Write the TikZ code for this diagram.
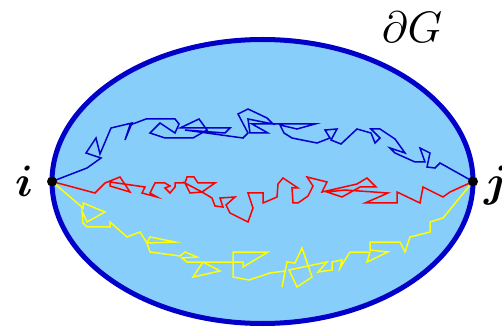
\documentclass[tikz,border=0pt]{standalone}
\usepackage{bm}
\usepackage{graphicx}
\usetikzlibrary{shapes.geometric}
\definecolor{regionfill}{RGB}{135,206,250}
\definecolor{borderblue}{RGB}{0,0,200}
\definecolor{walkblue}{RGB}{0,0,205}
\definecolor{walkyellow}{RGB}{255,255,0}
\newcommand{\biglbl}[1]{\scalebox{4.4}{$#1$}}
\begin{document}
\begin{tikzpicture}[x=1pt,y=-1pt,
  region/.style={fill=regionfill,draw=borderblue,line width=5pt},
  walk/.style={line width=1.5pt,line join=miter},
  bluewalk/.style={walk,draw=walkblue},
  redwalk/.style={walk,draw=red},
  yellowwalk/.style={walk,draw=walkyellow},
  endpoint/.style={circle,fill=black,inner sep=0pt,minimum size=10pt},
  biglabel/.style={inner sep=0pt}]
\useasboundingbox (0,0) rectangle (502,328);
\node[region,ellipse,minimum width=421pt,minimum height=284pt,inner sep=0pt] (G) at (262.5,181.5) {};
\node[inner sep=0pt] (pi) at (52,181.5) {};
\node[inner sep=0pt] (pj) at (473,181.5) {};
% blue walk
\draw[bluewalk] (pi.center) -- (87,168) -- (101,158) -- (86,153) -- (96,138) -- (100,154)
  -- (111,128) -- (132,123) -- (125,140) -- (130,125) -- (146,119) -- (175,119) -- (179,124)
  -- (175,133) -- (160,123) -- (150,133) -- (165,138) -- (193,138) -- (207,130) -- (199,119)
  -- (180,128) -- (230,128) -- (225,133) -- (185,130) -- (243,138) -- (248,133) -- (238,114)
  -- (248,109) -- (267,118) -- (273,124) -- (248,119) -- (250,133) -- (268,133) -- (252,124)
  -- (273,124) -- (315,124) -- (297,129) -- (280,125) -- (284,133) -- (292,138) -- (317,143)
  -- (330,138) -- (325,130) -- (337,129) -- (331,140) -- (341,144) -- (357,129) -- (371,133)
  -- (375,143) -- (380,138) -- (371,129) -- (380,129) -- (395,139) -- (405,153) -- (390,148)
  -- (395,153) -- (415,162) -- (425,162) -- (420,148) -- (430,153) -- (427,167) -- (435,168)
  -- (440,163) -- (pj.center);
% red walk
\draw[redwalk] (pi.center) -- (95,193) -- (105,183) -- (120,177) -- (130,192) -- (110,186)
  -- (110,182) -- (145,187) -- (142,193) -- (157,197) -- (150,193) -- (155,183) -- (165,183)
  -- (170,186) -- (165,188) -- (170,193) -- (175,187) -- (175,183) -- (185,183) -- (187,177)
  -- (194,177) -- (198,183) -- (215,183) -- (202,192) -- (190,193) -- (185,183) -- (202,192)
  -- (212,198) -- (215,206) -- (223,207) -- (220,198) -- (235,197) -- (226,205) -- (230,213)
  -- (248,222) -- (253,208) -- (248,193) -- (263,193) -- (263,203) -- (277,197) -- (278,184)
  -- (283,178) -- (298,188) -- (292,188) -- (293,203) -- (298,203) -- (308,196) -- (313,186)
  -- (307,177) -- (327,182) -- (322,192) -- (357,184) -- (367,178) -- (376,187) -- (360,187)
  -- (342,197) -- (327,192) -- (345,190) -- (388,193) -- (365,203) -- (397,203) -- (397,192)
  -- (420,203) -- (423,187) -- (443,197) -- (450,192) -- (pj.center);
% yellow walk
\draw[yellowwalk] (pi.center) -- (83,208) -- (83,203) -- (105,212) -- (87,222) -- (82,211)
  -- (83,223) -- (87,227) -- (110,227) -- (110,222) -- (127,237) -- (140,232) -- (147,243)
  -- (175,242) -- (150,237) -- (147,243) -- (150,252) -- (180,256) -- (185,252) -- (197,257)
  -- (182,258) -- (187,262) -- (203,262) -- (193,277) -- (220,271) -- (203,262) -- (233,262)
  -- (243,262) -- (243,267) -- (268,252) -- (233,252) -- (233,277) -- (249,280) -- (270,273)
  -- (285,271) -- (282,287) -- (287,262) -- (295,263) -- (302,248) -- (312,277) -- (297,287)
  -- (289,270) -- (327,262) -- (318,272) -- (332,270) -- (332,262) -- (342,260) -- (340,268)
  -- (350,252) -- (370,252) -- (367,262) -- (388,252) -- (370,250) -- (370,242) -- (400,242)
  -- (405,252) -- (410,237) -- (430,232) -- (430,222) -- (443,218) -- (pj.center);
\node[endpoint] (di) at (pi) {};
\node[endpoint] (dj) at (pj) {};
\node[biglabel,anchor=base] (li) at (24,197) {\biglbl{\bm{i}}};
\node[biglabel,anchor=base west] (lj) at (484,197) {\biglbl{\bm{j}}};
\node[biglabel,anchor=base] (lG) at (412,43) {\biglbl{\partial G}};
\end{tikzpicture}
\end{document}
